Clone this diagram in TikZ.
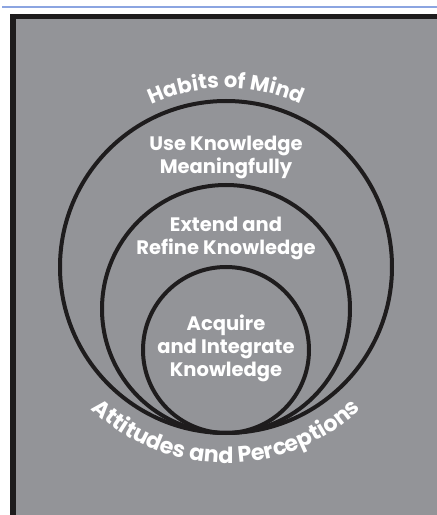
\documentclass[tikz,border=0pt]{standalone}
\usepackage{fontspec}
\newfontfamily\figfont{Poppins}
\usetikzlibrary{decorations.text}
\definecolor{bg}{RGB}{147,148,152}
\definecolor{ink}{RGB}{30,28,29}
\definecolor{rulecol}{RGB}{140,165,225}
\begin{document}
\begin{tikzpicture}[x=1pt,y=1pt,
  ring/.style={draw=ink, line width=4pt},
  lvltext/.style={text=white, font=\figfont\bfseries\fontsize{19.5}{23}\selectfont, align=center, inner sep=0pt},
]
\useasboundingbox (0,0) rectangle (437,515);
\fill[bg] (13,-5) rectangle (445,498.5);
\draw[ink, line width=5.5pt] (13,-10) -- (13,498.5) -- (450,498.5);
\draw[rulecol, line width=1.2pt] (2,508) -- (440,508);
\coordinate (T) at (226,82);
\coordinate (C1) at (226,248);
\coordinate (C2) at (226,206);
\coordinate (C3) at (226,165);
\draw[ring] (C1) circle[radius=166];
\draw[ring] (C2) circle[radius=124];
\draw[ring] (C3) circle[radius=83];
\node[lvltext] (use) at (226,358) {Use Knowledge\\Meaningfully};
\node[lvltext] (ext) at (226,277) {Extend and\\Refine Knowledge};
\node[lvltext] (acq) at (226,167) {Acquire\\and Integrate\\Knowledge};
\path[decorate, decoration={text along path, text align=center, text color=white,
  text={|\figfont\bfseries\fontsize{21}{24}\selectfont|Habits of Mind}}]
  (C1) ++(140:179) arc[start angle=140, end angle=40, radius=179];
\path[decorate, decoration={text along path, text align=center, text color=white,
  text={|\figfont\bfseries\fontsize{22.3}{25}\selectfont|Attitudes and Perceptions}}]
  (C1) ++(205:196) arc[start angle=205, end angle=335, radius=196];
\end{tikzpicture}
\end{document}
